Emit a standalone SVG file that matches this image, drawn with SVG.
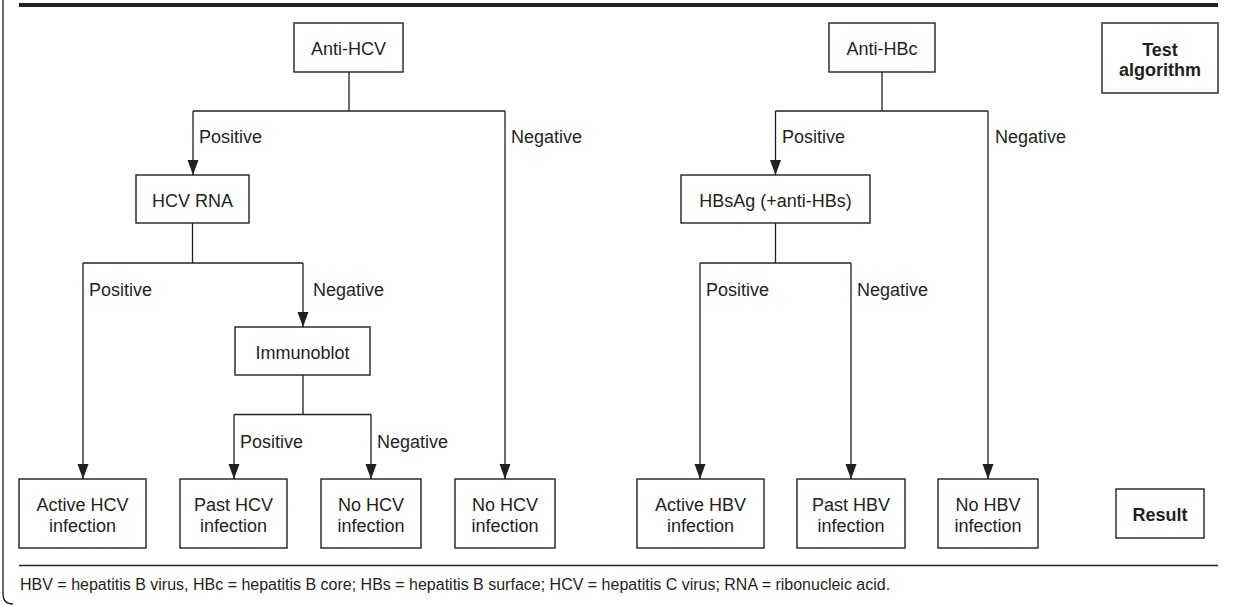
<svg xmlns="http://www.w3.org/2000/svg" width="1233" height="605" viewBox="0 0 1233 605">
<style>
.box{fill:#fff;stroke:#231f20;stroke-width:1.4}
.t{font-family:"Liberation Sans",Arial,sans-serif;font-size:18px;fill:#231f20;text-anchor:middle}
.b{font-weight:bold}
.lbl{font-family:"Liberation Sans",Arial,sans-serif;font-size:18px;fill:#231f20}
.fn{font-family:"Liberation Sans",Arial,sans-serif;font-size:16px;fill:#231f20}
.c{fill:none;stroke:#231f20;stroke-width:1.3}
.a{marker-end:url(#arr)}
</style>
<defs>
<marker id="arr" markerUnits="userSpaceOnUse" markerWidth="16" markerHeight="12" refX="15" refY="5.5" orient="auto">
<path d="M0,0 L15,5.5 L0,11 Z" fill="#231f20"/>
</marker>
</defs>
<rect width="1233" height="605" fill="#fff"/>
<g id="frame">
<path d="M3,0 V594 Q3,604 13,604" fill="none" stroke="#231f20" stroke-width="1.3"/>
<rect x="19" y="3" width="1199" height="4" fill="#231f20"/>
<line x1="19" y1="565.5" x2="1218" y2="565.5" stroke="#231f20" stroke-width="1.3"/>
</g>
<g id="connectors">
<path class="c" d="M349,72 V111"/>
<path class="c" d="M505,111 H193"/>
<path class="c a" d="M193,111 V175"/>
<path class="c a" d="M505,111 V479"/>
<path class="c" d="M192.5,223 V263"/>
<path class="c" d="M83,263 H303"/>
<path class="c a" d="M83,263 V479"/>
<path class="c a" d="M303,263 V327"/>
<path class="c" d="M303,375 V414.5"/>
<path class="c" d="M234,414.5 H371"/>
<path class="c a" d="M234,414.5 V479"/>
<path class="c a" d="M371,414.5 V479"/>
<path class="c" d="M882,72 V111"/>
<path class="c" d="M775.5,111 H988"/>
<path class="c a" d="M775.5,111 V175"/>
<path class="c a" d="M988,111 V479"/>
<path class="c" d="M775.5,223 V263"/>
<path class="c" d="M700,263 H851"/>
<path class="c a" d="M700,263 V479"/>
<path class="c a" d="M851,263 V479"/>
</g>
<g id="edge-labels">
<text class="lbl" x="199" y="143">Positive</text>
<text class="lbl" x="511" y="143">Negative</text>
<text class="lbl" x="89" y="296">Positive</text>
<text class="lbl" x="313" y="296">Negative</text>
<text class="lbl" x="240" y="448">Positive</text>
<text class="lbl" x="377" y="448">Negative</text>
<text class="lbl" x="782" y="143">Positive</text>
<text class="lbl" x="995" y="143">Negative</text>
<text class="lbl" x="706" y="296">Positive</text>
<text class="lbl" x="857" y="296">Negative</text>
</g>
<g id="anti-hcv"><rect class="box" x="294" y="23" width="109" height="49"/><text class="t" x="348.5" y="55">Anti-HCV</text></g>
<g id="hcv-rna"><rect class="box" x="136" y="175" width="113" height="48"/><text class="t" x="192.5" y="206.5">HCV RNA</text></g>
<g id="immunoblot"><rect class="box" x="235" y="327" width="135" height="48"/><text class="t" x="302.5" y="358.5">Immunoblot</text></g>
<g id="active-hcv"><rect class="box" x="19" y="479" width="127" height="69"/><text class="t" x="82.5" y="510.5">Active HCV</text><text class="t" x="82.5" y="531.5">infection</text></g>
<g id="past-hcv"><rect class="box" x="180" y="479" width="107" height="69"/><text class="t" x="233.5" y="510.5">Past HCV</text><text class="t" x="233.5" y="531.5">infection</text></g>
<g id="no-hcv-1"><rect class="box" x="321" y="479" width="100" height="69"/><text class="t" x="371" y="510.5">No HCV</text><text class="t" x="371" y="531.5">infection</text></g>
<g id="no-hcv-2"><rect class="box" x="455" y="479" width="100" height="69"/><text class="t" x="505" y="510.5">No HCV</text><text class="t" x="505" y="531.5">infection</text></g>
<g id="anti-hbc"><rect class="box" x="829" y="23" width="106" height="49"/><text class="t" x="882" y="55">Anti-HBc</text></g>
<g id="hbsag"><rect class="box" x="681" y="175" width="189" height="48"/><text class="t" x="775.5" y="206.5">HBsAg (+anti-HBs)</text></g>
<g id="active-hbv"><rect class="box" x="637" y="479" width="127" height="69"/><text class="t" x="700.5" y="510.5">Active HBV</text><text class="t" x="700.5" y="531.5">infection</text></g>
<g id="past-hbv"><rect class="box" x="797" y="479" width="108" height="69"/><text class="t" x="851" y="510.5">Past HBV</text><text class="t" x="851" y="531.5">infection</text></g>
<g id="no-hbv"><rect class="box" x="938" y="479" width="100" height="69"/><text class="t" x="988" y="510.5">No HBV</text><text class="t" x="988" y="531.5">infection</text></g>
<g id="test-algorithm"><rect class="box" x="1102" y="23" width="116" height="70"/><text class="t b" x="1160" y="55.5">Test</text><text class="t b" x="1160" y="76">algorithm</text></g>
<g id="result"><rect class="box" x="1116" y="489" width="88" height="49"/><text class="t b" x="1160" y="521">Result</text></g>
<text class="fn" x="20" y="590">HBV = hepatitis B virus, HBc = hepatitis B core; HBs = hepatitis B surface; HCV = hepatitis C virus; RNA = ribonucleic acid.</text>
</svg>
